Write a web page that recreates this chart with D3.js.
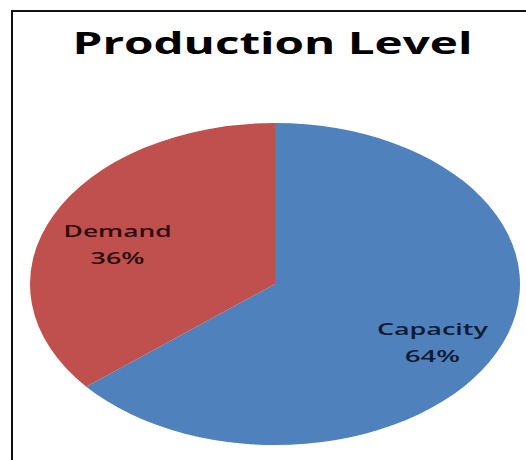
<!DOCTYPE html>
<html>
<head>
<meta charset="utf-8">
<script src="https://cdn.jsdelivr.net/npm/d3@7"></script>
<style>
  html, body { margin: 0; padding: 0; background: #ffffff; }
  svg { display: block; }
</style>
</head>
<body>
<svg id="chart" width="526" height="460"></svg>
<script>
const title = "Production Level";
const categories = ["Capacity", "Demand"];
const values = [64, 36];
const colors = ["#4F81BD", "#C0504D"];
const textColors = ["#0e1a30", "#2a0c0c"];

const W = 526, H = 460;
const svg = d3.select("#chart");

// frame (left and top edges visible)
svg.append("path")
  .attr("d", `M12,${H} L12,11 L${W},11`)
  .attr("fill", "none")
  .attr("stroke", "#111")
  .attr("stroke-width", 2);

// title (horizontally stretched, like the reference)
svg.append("text")
  .attr("x", 272.5).attr("y", 54)
  .attr("text-anchor", "middle")
  .attr("font-family", "'Open Sans', 'Liberation Sans', sans-serif")
  .attr("font-weight", "bold")
  .attr("font-size", 30)
  .attr("fill", "#000")
  .attr("textLength", 400)
  .attr("lengthAdjust", "spacingAndGlyphs")
  .text(title);

const cx = 275, cy = 284, rx = 245, ry = 161;
const sx = rx / ry;

const pie = d3.pie().sort(null).value(d => d)(values);
const arc = d3.arc().innerRadius(0).outerRadius(ry);
const labelArc = d3.arc().innerRadius(ry * 0.71).outerRadius(ry * 0.71);

const g = svg.append("g").attr("transform", `translate(${cx},${cy}) scale(${sx},1)`);
g.selectAll("path.slice")
  .data(pie)
  .join("path")
  .attr("class", "slice")
  .attr("d", arc)
  .attr("fill", (d, i) => colors[i]);

const pctWidths = { "Capacity": [111, 55], "Demand": [108, 54] };
const lab = svg.append("g").attr("transform", `translate(${cx},${cy})`);
pie.forEach((d, i) => {
  const [x0, y0] = labelArc.centroid(d);
  const x = x0 * sx, y = y0;
  const name = categories[i];
  const pct = Math.round(values[i] / d3.sum(values) * 100) + "%";
  const t = lab.append("text")
    .attr("text-anchor", "middle")
    .attr("font-family", "'Open Sans', 'Liberation Sans', sans-serif")
    .attr("font-weight", 600)
    .attr("font-size", 17)
    .attr("fill", textColors[i]);
  t.append("tspan").attr("x", x).attr("y", y + 2)
    .attr("textLength", pctWidths[name][0]).attr("lengthAdjust", "spacingAndGlyphs")
    .text(name);
  t.append("tspan").attr("x", x).attr("y", y + 29)
    .attr("textLength", pctWidths[name][1]).attr("lengthAdjust", "spacingAndGlyphs")
    .text(pct);
});
</script>
</body>
</html>
